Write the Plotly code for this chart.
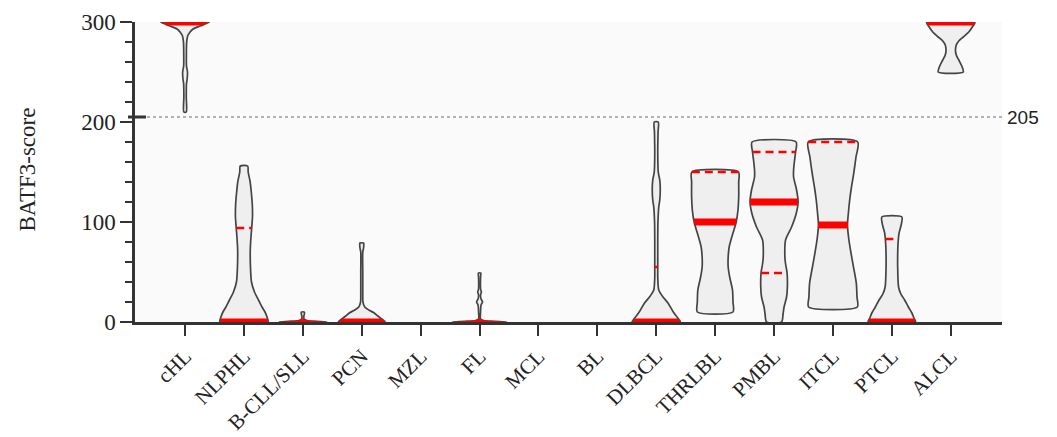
import numpy as np
import plotly.graph_objects as go

# ---------------- data ----------------
categories = ["cHL", "NLPHL", "B-CLL/SLL", "PCN", "MZL", "FL", "MCL", "BL",
              "DLBCL", "THRLBL", "PMBL", "ITCL", "PTCL", "ALCL"]

# violin profiles: score levels and relative kernel density (arbitrary units)
chl_y = [210, 225, 238, 244, 250, 256, 265, 280, 286, 290, 293, 296, 298, 300]
chl_d = [1.2, 1.2, 1.4, 2.2, 2.4, 1.4, 1.3, 1.6, 2.6, 5, 8, 15, 20, 24.3]

nlphl_y = [0, 5, 10, 15, 22, 30, 40, 55, 72, 85, 95, 105, 118, 130, 140, 150, 156]
nlphl_d = [24, 23, 21, 18, 14.5, 10.5, 7.5, 6.5, 6.3, 7, 7.8, 8.5, 8.3, 7.3, 6.2, 4.2, 3.7]

bcll_y = [0, 0.7, 1.5, 3, 6, 8, 10]
bcll_d = [24, 14, 4, 1.2, 1, 1.5, 1.5]

pcn_y = [0, 3, 6, 9, 12, 15, 20, 30, 50, 70, 74, 77, 79]
pcn_d = [23.5, 20, 16, 12.5, 7, 3, 1.2, 1, 1, 1, 1.8, 2, 1.8]

mzl_y, mzl_d = [], []

fl_y = [0, 0.7, 1.5, 3, 10, 17, 20, 23, 27, 30, 33, 45, 49]
fl_d = [27, 15, 4, 1, 1, 1.5, 3, 1.5, 1, 1.8, 1, 1, 1.2]

mcl_y, mcl_d = [], []
bl_y, bl_d = [], []

dlbcl_y = [0, 4, 10, 19, 26, 32, 45, 55, 80, 100, 115, 122, 132, 142, 150, 170, 190, 200]
dlbcl_d = [24, 21.5, 17, 11.7, 6, 2.5, 1.5, 1.5, 1.5, 1.7, 2.5, 3.5, 4, 3.5, 2, 1.5, 1.8, 2]

thrlbl_y = [10, 20, 32, 45, 55, 65, 75, 88, 100, 112, 125, 140, 150]
thrlbl_d = [17.8, 17.8, 17.3, 14.5, 13, 13, 14, 17.5, 21, 22.8, 23.5, 23.5, 23.3]

pmbl_y = [0, 8, 15, 25, 35, 49, 58, 65, 82, 95, 108, 120, 132, 145, 152, 162, 170, 180]
pmbl_d = [7.5, 9, 10, 12.5, 13.3, 13, 11.5, 10.8, 11.5, 17.5, 22, 24, 22.5, 19.5, 19.5, 20.5, 21.5, 22]

itcl_y = [15, 25, 39, 55, 69, 83, 97, 110, 122, 135, 149, 165, 180]
itcl_d = [24.3, 24, 23.3, 20.5, 18, 15.8, 14.5, 15.5, 16.7, 18.5, 20.8, 23, 24.7]

ptcl_y = [0, 4, 9, 15, 22, 28, 35, 55, 75, 83, 89, 97, 105]
ptcl_d = [23.7, 22, 20, 16.5, 12.8, 9, 6.7, 5.8, 6, 6.5, 7.2, 9.3, 10]

alcl_y = [250, 256, 262, 267, 272, 277, 281, 285, 290, 295, 300]
alcl_d = [12.5, 11, 8, 5.5, 4.7, 5.5, 8, 12.5, 18, 21.5, 24.2]

medians = [300, 0, 0, 0, None, 0, None, None, 0, 100, 120, 97, 0, 300]
q1 = [None, None, None, None, None, None, None, None, None, None, 49, None, None, None]
q3 = [None, 94, None, None, None, None, None, None, 55, 150, 170, 180, 83, None]

threshold = 205
y_ticks = [0, 100, 200, 300]

# ---------------- figure ----------------
profiles = [(chl_y, chl_d), (nlphl_y, nlphl_d), (bcll_y, bcll_d), (pcn_y, pcn_d),
            (mzl_y, mzl_d), (fl_y, fl_d), (mcl_y, mcl_d), (bl_y, bl_d),
            (dlbcl_y, dlbcl_d), (thrlbl_y, thrlbl_d), (pmbl_y, pmbl_d),
            (itcl_y, itcl_d), (ptcl_y, ptcl_d), (alcl_y, alcl_d)]

SCALE = 0.42 / 24.7          # density units -> category half-width
BAND = 3.5                    # half thickness of the median band (score units)
FILL = "#efefef"
EDGE = "#444444"
RED = "#ff0000"
FONT = "Liberation Serif"
PLOT_W = 867

fig = go.Figure()

for i, (ys, ds) in enumerate(profiles):
    if not ys:
        continue
    ys = np.array(ys, float)
    hw = np.array(ds, float) * SCALE
    xs = np.concatenate([i + hw, (i - hw)[::-1], [i + hw[0]]])
    yy = np.concatenate([ys, ys[::-1], [ys[0]]])
    fig.add_trace(go.Scatter(x=xs, y=yy, mode="lines", fill="toself",
                             fillcolor=FILL, line=dict(color=EDGE, width=1.7,
                                                       shape="spline", smoothing=0.7),
                             hoverinfo="skip", showlegend=False))
    # median band, clipped to the violin outline
    m = medians[i]
    if m is not None:
        lo = max(m - BAND, ys.min())
        hi = min(m + BAND, ys.max())
        inner = ys[(ys > lo) & (ys < hi)]
        by = np.concatenate([[lo], inner, [hi]])
        bw = np.interp(by, ys, hw)
        bx = np.concatenate([i + bw, (i - bw)[::-1]])
        byy = np.concatenate([by, by[::-1]])
        fig.add_trace(go.Scatter(x=bx, y=byy, mode="lines", fill="toself",
                                 fillcolor=RED, line=dict(color=RED, width=0),
                                 hoverinfo="skip", showlegend=False))
    for q in (q1[i], q3[i]):
        if q is None:
            continue
        w = float(np.interp(q, ys, hw))
        fig.add_trace(go.Scatter(x=[i - w, i + w], y=[q, q], mode="lines",
                                 line=dict(color=RED, width=2.5, dash="8px,5px"),
                                 hoverinfo="skip", showlegend=False))

# threshold line and its label / axis mark
fig.add_shape(type="line", xref="paper", x0=0, x1=1, yref="y",
              y0=threshold, y1=threshold, line=dict(color="#9a9a9a", width=1.5, dash="dot"))
fig.add_shape(type="line", xref="paper", x0=-7 / PLOT_W, x1=11 / PLOT_W, yref="y",
              y0=threshold, y1=threshold, line=dict(color="#333333", width=3))
fig.add_annotation(x=1, xref="paper", y=threshold, yref="y", text=str(threshold),
                   showarrow=False, xanchor="left", xshift=3,
                   font=dict(family="Liberation Sans", size=19, color="#222222"))

# y-axis title
fig.add_annotation(x=(12 - 135) / PLOT_W, xref="paper", y=0.51, yref="paper",
                   text="BATF3-score", textangle=-90, showarrow=False,
                   font=dict(family=FONT, size=23, color="#222222"))

# the page body adds an 8px offset, so margins are reduced by 8px on left/top
fig.update_layout(
    width=1057, height=437, autosize=False,
    margin=dict(l=127, r=63, t=14, b=123, autoexpand=False),
    paper_bgcolor="white", plot_bgcolor="#fafafa",
    font=dict(family=FONT, color="#222222"),
    showlegend=False,
)
fig.update_xaxes(range=[-0.85, 13.87], tickmode="array",
                 tickvals=list(range(len(categories))), ticktext=categories,
                 tickangle=-45, tickfont=dict(family=FONT, size=21),
                 ticklabelstandoff=0, automargin=False,
                 showgrid=False, zeroline=False, showline=True,
                 linecolor="#333333", linewidth=2.5,
                 ticks="outside", ticklen=11, tickwidth=2, tickcolor="#333333")
fig.update_yaxes(range=[0, 300], tickmode="array", tickvals=y_ticks,
                 tickfont=dict(family=FONT, size=23), automargin=False,
                 showgrid=False, zeroline=False, showline=True,
                 linecolor="#333333", linewidth=2.5,
                 ticks="outside", ticklen=12, tickwidth=2, tickcolor="#333333",
                 minor=dict(dtick=20, ticks="outside", ticklen=7, tickwidth=2,
                            tickcolor="#333333", showgrid=False))

fig.write_html("out.html")
